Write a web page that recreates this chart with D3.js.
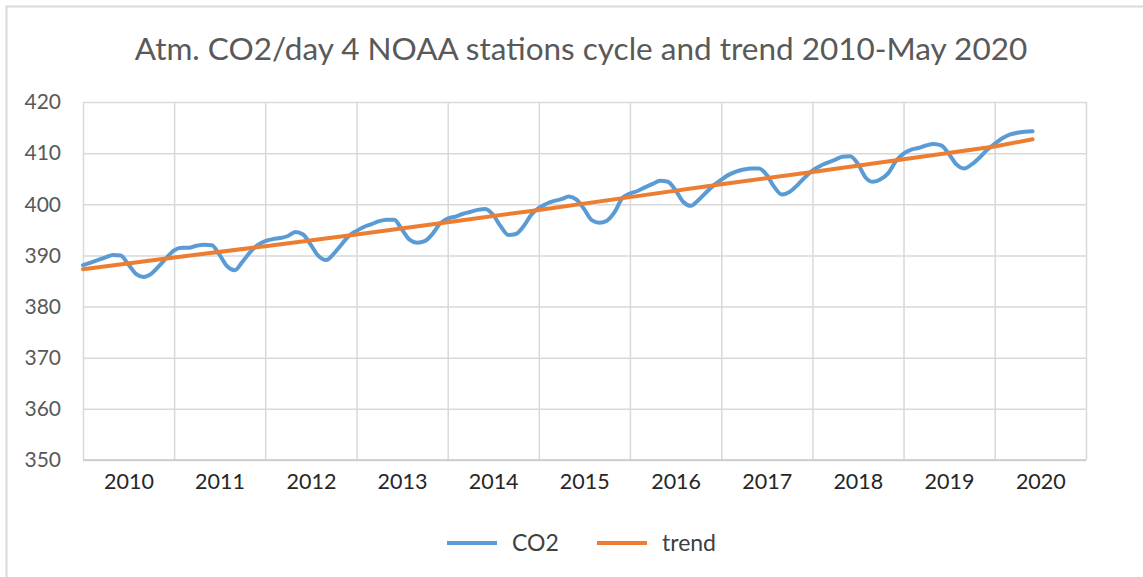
<!DOCTYPE html>
<html>
<head>
<meta charset="utf-8">
<script src="https://cdn.jsdelivr.net/npm/d3@7"></script>
<style>
  html, body { margin: 0; padding: 0; background: #ffffff; }
  svg { display: block; }
  text { font-family: Lato, "Open Sans", sans-serif; }
</style>
</head>
<body>
<svg id="chart" width="1143" height="577"></svg>
<script>
// ---- data ----
const titleText = "Atm. CO2/day 4 NOAA stations cycle and trend 2010-May 2020";
const seriesNames = ["CO2", "trend"];
const yTicks = [350, 360, 370, 380, 390, 400, 410, 420];
const yearLabels = [2010, 2011, 2012, 2013, 2014, 2015, 2016, 2017, 2018, 2019, 2020];
// CO2 values at the 1st of each month, Jan 2010 .. Jun 2020 (ppm)
const co2Start = "2010-01-01";
const co2Monthly = [
  388.1, 388.6, 389.1, 389.6, 390.1, 390.0, 388.3, 386.4, 385.8, 386.4, 387.9, 389.5,
  391.0, 391.5, 391.5, 391.9, 392.1, 392.0, 390.2, 387.9, 387.1, 388.7, 390.6, 392.0,
  392.8, 393.2, 393.4, 393.8, 394.6, 394.1, 392.1, 389.9, 389.1, 390.3, 392.1, 393.8,
  394.8, 395.6, 396.1, 396.7, 397.0, 397.0, 395.1, 393.1, 392.5, 392.8, 394.2, 396.2,
  397.2, 397.6, 398.1, 398.5, 398.9, 399.1, 398.0, 395.7, 394.0, 394.2, 395.7, 397.9,
  399.3, 400.1, 400.6, 401.0, 401.5, 400.9, 399.1, 396.9, 396.4, 396.8, 398.5, 401.2,
  402.1, 402.6, 403.3, 404.0, 404.6, 404.4, 402.8, 400.5, 399.7, 400.8, 402.3, 403.7,
  404.8, 405.8, 406.4, 406.8, 407.0, 407.0, 405.8, 403.4, 401.9, 402.4, 403.7, 405.2,
  406.6, 407.5, 408.1, 408.7, 409.3, 409.4, 408.0, 405.3, 404.4, 404.9, 406.1, 408.4,
  409.9, 410.7, 411.0, 411.5, 411.8, 411.5, 409.9, 407.8, 407.0, 407.8, 409.1, 410.6,
  411.8, 412.9, 413.6, 414.0, 414.2, 414.3
];
// trend values at 1 Jan of each year, plus the end of May 2020
const trendDates = ["2010-01-01","2011-01-01","2012-01-01","2013-01-01","2014-01-01","2015-01-01",
                    "2016-01-01","2017-01-01","2018-01-01","2019-01-01","2020-01-01","2020-06-01"];
const trendValues = [387.3, 389.6, 391.8, 394.1, 396.5, 398.9, 401.4, 403.9, 406.3, 408.8, 411.3, 412.7];

// ---- layout ----
const colors = { CO2: "#5B9BD5", trend: "#ED7D31" };
const svg = d3.select("#chart");
const plot = { left: 83, right: 1086, top: 102, bottom: 460 };

const parse = d3.timeParse("%Y-%m-%d");
const t0 = parse(co2Start);
const co2Data = co2Monthly.map((v, i) => ({ date: d3.timeMonth.offset(t0, i), value: v }));
const trendData = trendDates.map((d, i) => ({ date: parse(d), value: trendValues[i] }));

const x = d3.scaleTime()
  .domain([new Date(yearLabels[0], 0, 1), new Date(yearLabels[yearLabels.length - 1] + 1, 0, 1)])
  .range([plot.left, plot.right]);
const y = d3.scaleLinear()
  .domain([d3.min(yTicks), d3.max(yTicks)])
  .range([plot.bottom, plot.top]);

// outer chart frame (only top/left visible in the reference)
svg.append("rect")
  .attr("x", 6.5).attr("y", 6.5).attr("width", 1140).attr("height", 580)
  .attr("fill", "#ffffff").attr("stroke", "#d9d9d9").attr("stroke-width", 2);

// title
svg.append("text")
  .attr("x", 581).attr("y", 60)
  .attr("text-anchor", "middle")
  .attr("font-size", 31.5)
  .attr("fill", "#595959")
  .text(titleText);

// horizontal gridlines
const yAxis = d3.axisLeft(y).tickValues(yTicks).tickSize(-(plot.right - plot.left)).tickPadding(22);
const gy = svg.append("g").attr("transform", `translate(${plot.left},0)`).call(yAxis);
gy.select(".domain").remove();
gy.selectAll(".tick line").attr("stroke", "#d9d9d9").attr("stroke-width", 1.5);
gy.selectAll(".tick text")
  .attr("font-size", 21).attr("fill", "#595959")
  .attr("font-family", "Lato, 'Open Sans', sans-serif");

// vertical gridlines at year boundaries
const yearBounds = yearLabels.map(yr => new Date(yr, 0, 1)).concat([new Date(yearLabels[yearLabels.length - 1] + 1, 0, 1)]);
const xGrid = d3.axisBottom(x).tickValues(yearBounds).tickSize(-(plot.bottom - plot.top)).tickFormat("");
const gx = svg.append("g").attr("transform", `translate(0,${plot.bottom})`).call(xGrid);
gx.select(".domain").remove();
gx.selectAll(".tick line").attr("stroke", "#d9d9d9").attr("stroke-width", 1.5);

// bottom axis line
svg.append("line")
  .attr("x1", plot.left).attr("x2", plot.right)
  .attr("y1", plot.bottom).attr("y2", plot.bottom)
  .attr("stroke", "#c8c8c8").attr("stroke-width", 1.5);

// year labels centred in each year
const xLab = d3.axisBottom(x)
  .tickValues(yearLabels.map(yr => new Date(yr, 6, 2)))
  .tickFormat(d3.timeFormat("%Y"))
  .tickSize(0).tickPadding(14);
const gl = svg.append("g").attr("transform", `translate(0,${plot.bottom})`).call(xLab);
gl.select(".domain").remove();
gl.selectAll(".tick text")
  .attr("font-size", 21.5).attr("fill", "#262626")
  .attr("font-family", "Lato, 'Open Sans', sans-serif");

// series lines
const line = d3.line()
  .x(d => x(d.date))
  .y(d => y(d.value))
  .curve(d3.curveMonotoneX);

svg.append("path").datum(co2Data)
  .attr("d", line).attr("fill", "none")
  .attr("stroke", colors.CO2).attr("stroke-width", 4)
  .attr("stroke-linejoin", "round").attr("stroke-linecap", "round");

svg.append("path").datum(trendData)
  .attr("d", d3.line().x(d => x(d.date)).y(d => y(d.value)))
  .attr("fill", "none")
  .attr("stroke", colors.trend).attr("stroke-width", 4)
  .attr("stroke-linecap", "round");

// legend
const legendItems = [
  { name: seriesNames[0], x0: 447 },
  { name: seriesNames[1], x0: 597 }
];
const lg = svg.append("g");
legendItems.forEach(it => {
  lg.append("line")
    .attr("x1", it.x0).attr("x2", it.x0 + 50)
    .attr("y1", 543).attr("y2", 543)
    .attr("stroke", colors[it.name]).attr("stroke-width", 4);
  lg.append("text")
    .attr("x", it.x0 + 65).attr("y", 551)
    .attr("font-size", 23).attr("fill", "#404040")
    .text(it.name);
});
</script>
</body>
</html>
